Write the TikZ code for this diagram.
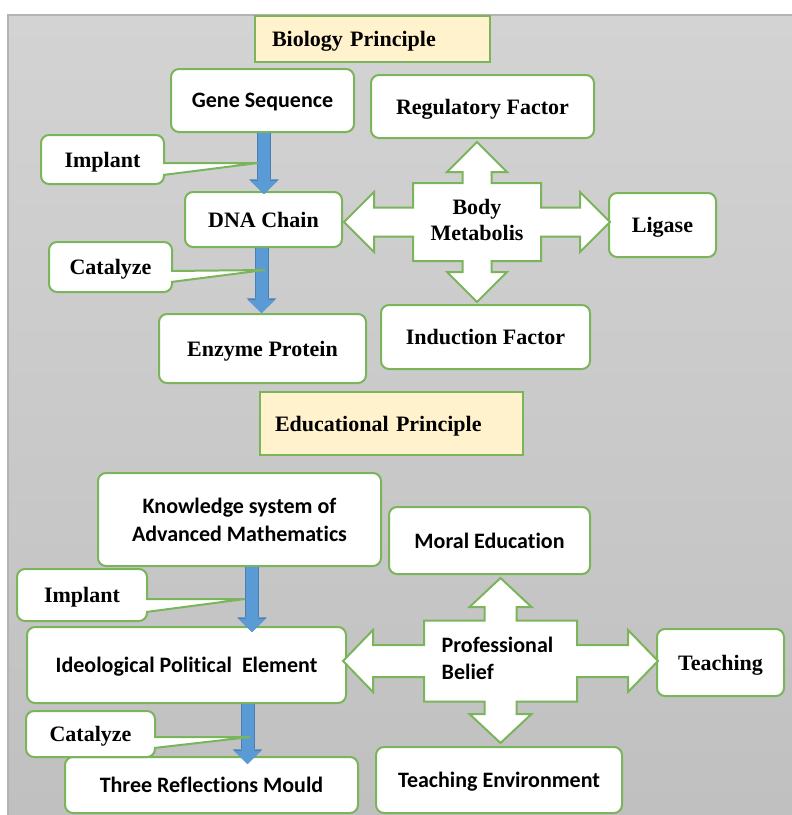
\documentclass[tikz,border=0pt]{standalone}
\usepackage{fontspec}
\setmainfont{Liberation Serif}
\newfontfamily\calibri[Ligatures=NoCommon]{Carlito}
\usepackage{tikz}
\usetikzlibrary{arrows.meta, calc}

\definecolor{boxgreen}{HTML}{7AB55C}
\definecolor{titlefill}{HTML}{FFF2CC}
\definecolor{arrowblue}{HTML}{5B9BD5}
\definecolor{arrowedge}{HTML}{4A7FB5}
\definecolor{paneltop}{HTML}{D3D3D3}
\definecolor{panelbot}{HTML}{C0C0C0}
\definecolor{panelline}{HTML}{B3B3B3}

\begin{document}
\begin{tikzpicture}[x=0.5pt,y=-0.5pt,
    box/.style={draw=boxgreen, line width=1pt, fill=white, rounded corners=4pt,
      align=center, inner sep=0pt, text depth=0pt, font=\fontsize{11}{13}\selectfont\bfseries},
    sbox/.style={box, font=\fontsize{11}{14}\selectfont\calibri\bfseries},
    title/.style={draw=boxgreen, line width=1pt, fill=titlefill, align=left,
      inner ysep=0pt, text depth=0pt, font=\fontsize{11}{13}\selectfont\bfseries},
    cross/.style={draw=boxgreen, line width=1pt, fill=white, line join=miter},
    flow/.style={arrowblue, line width=6pt,
      -{Triangle[length=6.5pt,width=13.5pt,line width=0pt]},
      preaction={draw=arrowedge, line width=7pt,
        -{Triangle[length=7.3pt,width=14.8pt,line width=0pt]}}},
    callout/.style={draw=boxgreen, line width=1pt, fill=white}]
  \useasboundingbox (0,0) rectangle (792,815);
  \fill[top color=paneltop, bottom color=panelbot] (8,15) rectangle (792,815);
  \draw[panelline, line width=1pt] (8,815) -- (8,15) -- (792,15);

  % biology part
  \node[title, inner xsep=8.5pt, text width=100.5pt, minimum height=23pt] (bioTitle) at (372.5,39) {Biology Principle};
  \node[sbox, minimum width=91.5pt, minimum height=31.5pt] (gene) at (262.5,100.5) {Gene Sequence};
  \node[box, minimum width=111.5pt, minimum height=31.5pt] (regulatory) at (482.5,106.5) {Regulatory Factor};
  \node[box, minimum width=78.5pt, minimum height=27.5pt] (dna) at (263.5,219.5) {DNA Chain};
  \node[box, minimum width=103.5pt, minimum height=34.5pt] (enzyme) at (262.5,348.5) {Enzyme Protein};
  \node[box, minimum width=104.5pt, minimum height=32pt] (induction) at (485.5,337) {Induction Factor};
  \node[box, minimum width=53.5pt, minimum height=32pt] (ligase) at (662.5,225) {Ligase};

  \draw[cross, shift={(477,222)}] (0,-80) -- (30,-50) -- (14.5,-50) -- (14.5,-39) -- (64,-39)
    -- (64,-14.5) -- (103,-14.5) -- (103,-30) -- (133,0) -- (103,30) -- (103,14.5) -- (64,14.5)
    -- (64,39) -- (14.5,39) -- (14.5,50) -- (30,50) -- (0,80) -- (-30,50) -- (-14.5,50)
    -- (-14.5,39) -- (-64,39) -- (-64,14.5) -- (-103,14.5) -- (-103,30) -- (-133,0)
    -- (-103,-30) -- (-103,-14.5) -- (-64,-14.5) -- (-64,-39) -- (-14.5,-39) -- (-14.5,-50)
    -- (-30,-50) -- cycle;
  \node[align=center, font=\fontsize{11}{13}\selectfont\bfseries] (body) at (477,220) {Body\\Metabolis};

  % educational part
  \node[title, inner xsep=7.5pt, text width=116.5pt, minimum height=31.5pt] (eduTitle) at (391.5,423.5) {Educational Principle};
  \node[sbox, minimum width=141.5pt, minimum height=46.5pt] (knowledge) at (239.5,519.5) {Knowledge system of\\Advanced Mathematics};
  \node[sbox, minimum width=100.5pt, minimum height=33.5pt] (moral) at (489.5,540.5) {Moral Education};
  \node[sbox, minimum width=159.5pt, minimum height=38pt] (ideo) at (186.5,665) {Ideological Political\ \ Element};
  \node[sbox, minimum width=146.5pt, minimum height=28pt] (three) at (211.5,785) {Three Reflections Mould};
  \node[sbox, minimum width=123pt, minimum height=33pt] (environment) at (499,780) {Teaching Environment};
  \node[box, minimum width=63.5pt, minimum height=33.5pt] (teaching) at (720.5,662.5) {Teaching};

  \draw[cross, shift={(500.5,661)}] (0,-83) -- (31,-54) -- (16,-54) -- (16,-40.5) -- (76.5,-40.5)
    -- (76.5,-16) -- (127.5,-16) -- (127.5,-31) -- (157.5,0) -- (127.5,31) -- (127.5,16)
    -- (76.5,16) -- (76.5,40.5) -- (16,40.5) -- (16,53) -- (31,53) -- (0,82) -- (-31,53)
    -- (-16,53) -- (-16,40.5) -- (-76.5,40.5) -- (-76.5,16) -- (-127.5,16) -- (-127.5,31)
    -- (-157.5,0) -- (-127.5,-31) -- (-127.5,-16) -- (-76.5,-16) -- (-76.5,-40.5)
    -- (-16,-40.5) -- (-16,-54) -- (-31,-54) -- cycle;
  \node[align=left, font=\fontsize{11}{13.5}\selectfont\calibri\bfseries] (belief) at (497.5,658) {Professional\\Belief};

  % blue flow arrows
  \draw[flow] ([xshift=0.75pt]gene.south) -- ([xshift=0.75pt,yshift=-1.5pt]gene.south |- dna.north);
  \draw[flow] ([xshift=-1pt]dna.south) -- ([xshift=-1pt]dna.south |- enzyme.north);
  \draw[flow] ([xshift=6.25pt]knowledge.south) -- ([xshift=6.25pt,yshift=-3pt]knowledge.south |- ideo.north);
  \draw[flow] ([xshift=30.5pt]ideo.south) -- ([xshift=30.5pt,yshift=-4pt]ideo.south |- three.north);

  % callouts
  \coordinate (implantTipA) at (258,163);
  \coordinate (catalyzeTipA) at (265,270);
  \coordinate (implantTipB) at (245,599);
  \coordinate (catalyzeTipB) at (250,737);

  \node[box, minimum width=61.5pt, minimum height=24.5pt] (implantA) at (102.5,159.5) {Implant};
  \draw[callout] ($(implantA.east)+(-2,3.5)$) -- (implantTipA) -- ($(implantA.east)+(-2,15.5)$);
  \node[box, minimum width=61.5pt, minimum height=25pt] (catalyzeA) at (110.5,267) {Catalyze};
  \draw[callout] ($(catalyzeA.east)+(-2,4)$) -- (catalyzeTipA) -- ($(catalyzeA.east)+(-2,15)$);
  \node[box, minimum width=65pt, minimum height=26pt] (implantB) at (82,595) {Implant};
  \draw[callout] ($(implantB.east)+(-2,4)$) -- (implantTipB) -- ($(implantB.east)+(-2,17)$);
  \node[box, minimum width=64.5pt, minimum height=23pt] (catalyzeB) at (90.5,734) {Catalyze};
  \draw[callout] ($(catalyzeB.east)+(-2,3)$) -- (catalyzeTipB) -- ($(catalyzeB.east)+(-2,14)$);
\end{tikzpicture}
\end{document}
